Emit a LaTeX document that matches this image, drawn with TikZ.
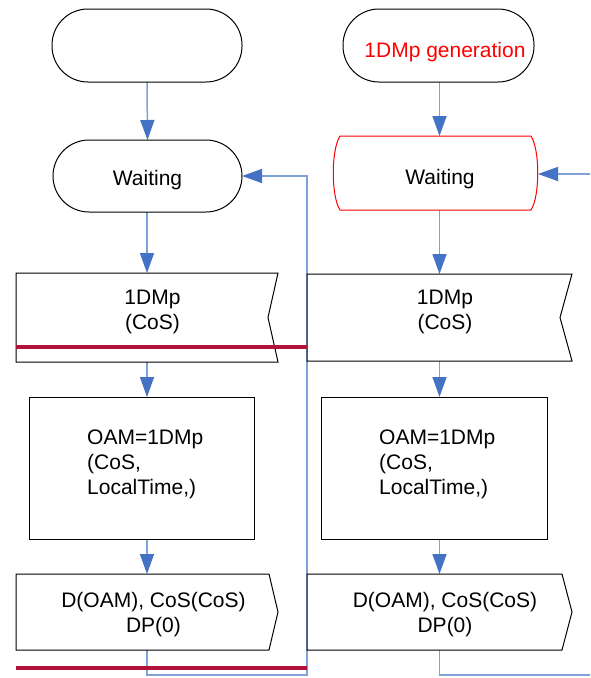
\documentclass[tikz,border=0pt]{standalone}
\usepackage{fontspec}
\setmainfont{Liberation Sans}
\usetikzlibrary{arrows.meta,calc}
\definecolor{lineblue}{RGB}{128,161,214}
\definecolor{tipblue}{RGB}{68,114,196}
\definecolor{darkred}{RGB}{176,18,58}
\begin{document}
\begin{tikzpicture}[x=1pt,y=-1pt,
  box/.style={draw=none, inner sep=0pt, outer sep=0pt},
  outline/.style={draw=black, line width=1pt, fill=white, line join=miter},
  txt/.style={font=\fontsize{21}{25}\selectfont, inner sep=0pt, align=center},
  conn/.style={draw=lineblue, line width=1.5pt},
  arr/.style={conn, -{Triangle[length=20pt,width=14pt,color=tipblue]}},
  redbar/.style={draw=darkred, line width=3.3pt},
]
\fill[white] (0,0) rectangle (590,678);
\useasboundingbox (0,0) rectangle (590,678);

% invisible shape frames
\node[box, minimum width=190pt, minimum height=73pt] (s1) at (147,45.5) {};
\node[box, minimum width=189pt, minimum height=72pt] (w1) at (147.5,176) {};
\node[box, minimum width=262pt, minimum height=89pt] (in1) at (147,317.5) {};
\node[box, minimum width=225pt, minimum height=142pt] (p1) at (141.5,468) {};
\node[box, minimum width=262pt, minimum height=76pt] (out1) at (147,612) {};

\node[box, minimum width=191pt, minimum height=73pt] (s2) at (438.5,45.5) {};
\node[box, minimum width=205pt, minimum height=74pt] (w2) at (435.5,173) {};
\node[box, minimum width=265pt, minimum height=87pt] (in2) at (439.5,317.5) {};
\node[box, minimum width=226pt, minimum height=142pt] (p2) at (434,468) {};
\node[box, minimum width=265pt, minimum height=76pt] (out2) at (439.5,612) {};

\coordinate (loopbot) at (307,675);
\coordinate (exitR) at (590,675);
\coordinate (entryR) at (590,174);
\coordinate (rb1a) at (16,347);
\coordinate (rb1b) at (307,347);
\coordinate (rb2a) at (16,668);
\coordinate (rb2b) at (307,668);

% connectors
\draw[arr] (s1.south) -- (w1.north);
\draw[arr] (w1.south -| in1.north) -- (in1.north);
\draw[arr] (in1.south) -- (in1.south |- p1.north);
\draw[arr] (p1.south -| out1.north) -- (out1.north);
\draw[arr] (out1.south) |- (loopbot) |- (w1.east);

\draw[arr] (s2.south -| in2.north) -- (in2.north |- w2.north);
\draw[arr] (in2.north |- w2.south) -- (in2.north);
\draw[arr] (in2.south) -- (in2.south |- p2.north);
\draw[arr] (p2.south -| out2.north) -- (out2.north);
\draw[conn] (out2.south) |- (exitR);
\draw[arr] (entryR) -- (entryR -| w2.east);

% outlines
\draw[outline, rounded corners=36pt] (s1.north west) rectangle (s1.south east);
\draw[outline, rounded corners=36pt] (w1.north west) rectangle (w1.south east);
\draw[outline] (in1.north west) -- (in1.north east) -- ([xshift=-10pt]in1.east) -- (in1.south east) -- (in1.south west) -- cycle;
\draw[outline] (p1.north west) rectangle (p1.south east);
\draw[outline] (out1.north west) -- ([xshift=-9pt]out1.north east) -- (out1.east) -- ([xshift=-9pt]out1.south east) -- (out1.south west) -- cycle;

\draw[outline, rounded corners=36pt] (s2.north west) rectangle (s2.south east);
\draw[outline, draw=red] ([xshift=7pt]w2.north west) -- ([xshift=-7pt]w2.north east)
  .. controls ([xshift=2pt,yshift=-14pt]w2.north east) and ([xshift=2pt,yshift=14pt]w2.south east) .. ([xshift=-7pt]w2.south east)
  -- ([xshift=7pt]w2.south west)
  .. controls ([xshift=-2pt,yshift=14pt]w2.south west) and ([xshift=-2pt,yshift=-14pt]w2.north west) .. cycle;
\draw[outline] (in2.north west) -- (in2.north east) -- ([xshift=-12pt]in2.east) -- (in2.south east) -- (in2.south west) -- cycle;
\draw[outline] (p2.north west) rectangle (p2.south east);
\draw[outline] (out2.north west) -- ([xshift=-10pt]out2.north east) -- (out2.east) -- ([xshift=-10pt]out2.south east) -- (out2.south west) -- cycle;

% texts (base anchor = baseline of last line)
\node[txt, anchor=base, text=red] (ts2) at (445,57) {1DMp generation};
\node[txt, anchor=base] (tw1) at (147.5,185.5) {Waiting};
\node[txt, anchor=base] (tw2) at (440,184.5) {Waiting};
\node[txt, anchor=base] (tin1) at (152.5,329.3) {1DMp\\(CoS)};
\node[txt, anchor=base] (tin2) at (445,329.3) {1DMp\\(CoS)};
\node[txt, anchor=base west, align=left] (tp1) at (87,494) {OAM=1DMp\\(CoS,\\LocalTime,)};
\node[txt, anchor=base west, align=left] (tp2) at (379,494.5) {OAM=1DMp\\(CoS,\\LocalTime,)};
\node[txt, anchor=base] (tout1) at (153.5,632.7) {D(OAM), CoS(CoS)\\DP(0)};
\node[txt, anchor=base] (tout2) at (445,632.7) {D(OAM), CoS(CoS)\\DP(0)};

% red bars
\draw[redbar] (rb1a) -- (rb1b);
\draw[redbar] (rb2a) -- (rb2b);
\end{tikzpicture}
\end{document}
